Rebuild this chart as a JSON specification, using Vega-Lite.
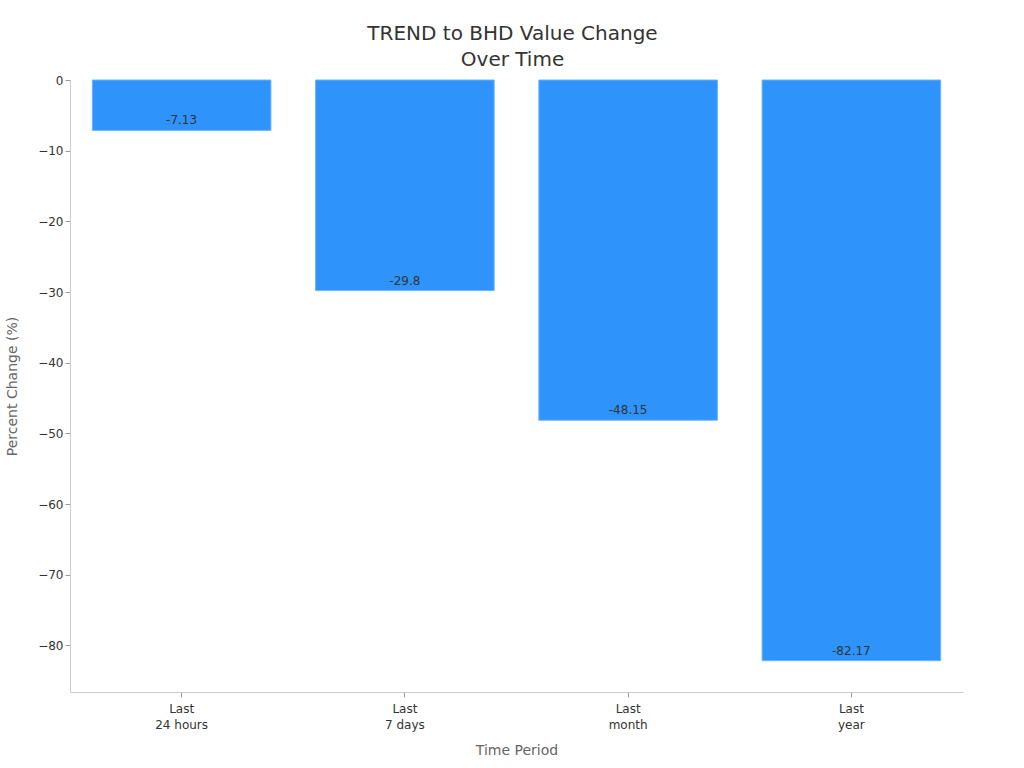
{
  "$schema": "https://vega.github.io/schema/vega-lite/v6.json",
  "width": 893,
  "height": 612,
  "autosize": "none",
  "padding": {"left": 70, "top": 80, "right": 61, "bottom": 76},
  "background": "white",
  "title": {
    "text": ["TREND to BHD Value Change", "Over Time"],
    "font": "DejaVu Sans",
    "fontSize": 20,
    "fontWeight": "normal",
    "color": "#333333",
    "offset": 4,
    "dx": -4,
    "lineHeight": 26
  },
  "config": {
    "view": {"stroke": null},
    "font": "DejaVu Sans",
    "axis": {
      "domainColor": "#cccccc",
      "tickColor": "#999999",
      "labelColor": "#333333",
      "labelFont": "DejaVu Sans",
      "labelFontSize": 12,
      "titleFont": "DejaVu Sans",
      "titleFontSize": 14,
      "titleFontWeight": "normal",
      "titleColor": "#666666",
      "grid": false
    }
  },
  "data": {
    "values": [
      {"period": "Last 24 hours", "change": -7.13, "label": "-7.13"},
      {"period": "Last 7 days", "change": -29.8, "label": "-29.8"},
      {"period": "Last month", "change": -48.15, "label": "-48.15"},
      {"period": "Last year", "change": -82.17, "label": "-82.17"}
    ]
  },
  "encoding": {
    "x": {
      "field": "period",
      "type": "nominal",
      "sort": null,
      "title": "Time Period",
      "scale": {"paddingInner": 0.2, "paddingOuter": 0.1},
      "axis": {
        "labelAngle": 0,
        "labelExpr": "split(datum.label, ' ')[0] == 'Last' ? ['Last', join(slice(split(datum.label, ' '), 1), ' ')] : datum.label",
        "labelPadding": 6,
        "labelLineHeight": 16,
        "tickSize": 5,
        "titlePadding": 13
      }
    },
    "y": {
      "field": "change",
      "type": "quantitative",
      "title": "Percent Change (%)",
      "scale": {"domain": [-86.6, 0], "nice": false, "zero": false},
      "axis": {"values": [0, -10, -20, -30, -40, -50, -60, -70, -80], "tickSize": 5, "titlePadding": 18}
    }
  },
  "layer": [
    {
      "mark": {"type": "bar", "color": "#2E93FA", "stroke": "#6FB4FB", "strokeWidth": 1}
    },
    {
      "mark": {"type": "text", "baseline": "bottom", "dy": -3, "fontSize": 12, "color": "#333333", "font": "DejaVu Sans"},
      "encoding": {"text": {"field": "label"}}
    }
  ]
}
